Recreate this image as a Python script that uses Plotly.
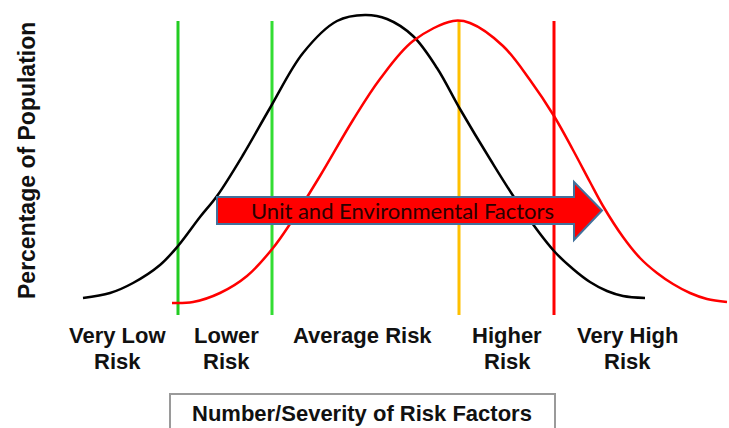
import plotly.graph_objects as go

# ---- data (x = risk scale, y = relative share of population) ----
black_x = [83, 110, 133, 160, 178, 200, 217, 243, 270, 303, 337, 365, 387, 413, 437, 460, 490, 520, 554, 573, 590, 607, 623, 645]
black_y = [2, 7, 17, 35, 54, 83, 104, 145, 192, 247, 279, 285, 281, 264, 232, 191, 141, 94, 49, 31, 18, 9, 4, 2]

red_x = [172, 193, 220, 247, 273, 290, 320, 353, 380, 413, 453, 470, 503, 530, 554, 573, 590, 603, 623, 640, 657, 673, 690, 707, 727]
red_y = [-3, -2, 7, 24, 52, 76, 124, 180, 221, 259, 279, 277, 254, 220, 184, 150, 118, 94, 63, 42, 27, 16, 7, 1, -2]

cutoff_x = [178, 272, 459, 554]
cutoff_colors = ["#22cc22", "#33dd33", "#ffc000", "#ff0000"]
cutoff_top = 279
cutoff_bottom = -15

category_x = [117, 226, 362, 507, 627]
category_line1 = ["Very Low", "Lower", "Average Risk", "Higher", "Very High"]
category_line2 = ["Risk", "Risk", "", "Risk", "Risk"]

arrow_start, arrow_end, arrow_tip = 217, 574, 602
arrow_body_lo, arrow_body_hi = 76, 103
arrow_head_lo, arrow_head_hi = 60, 118
arrow_label = "Unit and Environmental Factors"

x_title = "Number/Severity of Risk Factors"
y_title = "Percentage of Population"

fig = go.Figure()

for cx, col in zip(cutoff_x, cutoff_colors):
    fig.add_trace(go.Scatter(x=[cx, cx], y=[cutoff_bottom, cutoff_top], mode="lines",
                             line=dict(color=col, width=3), hoverinfo="skip", showlegend=False))

fig.add_trace(go.Scatter(x=black_x, y=black_y, mode="lines",
                         line=dict(color="black", width=2.5, shape="spline", smoothing=1),
                         hoverinfo="skip", showlegend=False))
fig.add_trace(go.Scatter(x=red_x, y=red_y, mode="lines",
                         line=dict(color="#ff0000", width=2.5, shape="spline", smoothing=1),
                         hoverinfo="skip", showlegend=False))

mid = (arrow_body_lo + arrow_body_hi) / 2
path = (f"M {arrow_start},{arrow_body_lo} L {arrow_end},{arrow_body_lo} L {arrow_end},{arrow_head_lo} "
        f"L {arrow_tip},{mid} L {arrow_end},{arrow_head_hi} L {arrow_end},{arrow_body_hi} "
        f"L {arrow_start},{arrow_body_hi} Z")
fig.add_shape(type="path", path=path, xref="x", yref="y", fillcolor="#ff0000",
              line=dict(color="#41719c", width=2))

fig.add_annotation(x=(arrow_start + arrow_end) / 2 + 7, y=mid, xref="x", yref="y", text=arrow_label,
                   showarrow=False, font=dict(family="Lato", size=22, color="#2a0000"))

label_font = dict(family="Liberation Sans", size=22, color="#111111", weight="bold")
for cx, l1, l2 in zip(category_x, category_line1, category_line2):
    fig.add_annotation(x=cx, y=-35, xref="x", yref="y", text=l1, showarrow=False, font=label_font)
    if l2:
        fig.add_annotation(x=cx, y=-61, xref="x", yref="y", text=l2, showarrow=False, font=label_font)

# x-axis title box
fig.add_shape(type="rect", x0=170, x1=555, y0=-94, y1=-140, xref="x", yref="y",
              line=dict(color="#9a9a9a", width=2), fillcolor="white")
fig.add_annotation(x=362, y=-113, xref="x", yref="y", text=x_title, showarrow=False,
                   font=dict(family="Liberation Sans", size=22, color="#111111", weight="bold"))

fig.add_annotation(x=27, y=139, xref="x", yref="y", text=y_title, showarrow=False, textangle=-90,
                   font=dict(family="Liberation Sans", size=23, color="#111111", weight="bold"))

fig.update_layout(width=729, height=428, margin=dict(l=0, r=0, t=0, b=0),
                  paper_bgcolor="white", plot_bgcolor="white", hovermode=False,
                  xaxis=dict(range=[0, 729], visible=False, fixedrange=True),
                  yaxis=dict(range=[-128, 300], visible=False, fixedrange=True))

fig.write_html("out.html", config={"displayModeBar": False})

# remove the browser's default body margin so the figure fills the window exactly
with open("out.html", "r", encoding="utf-8") as f:
    html = f.read()
html = html.replace("<body>", '<body style="margin:0;overflow:hidden">', 1)
with open("out.html", "w", encoding="utf-8") as f:
    f.write(html)
